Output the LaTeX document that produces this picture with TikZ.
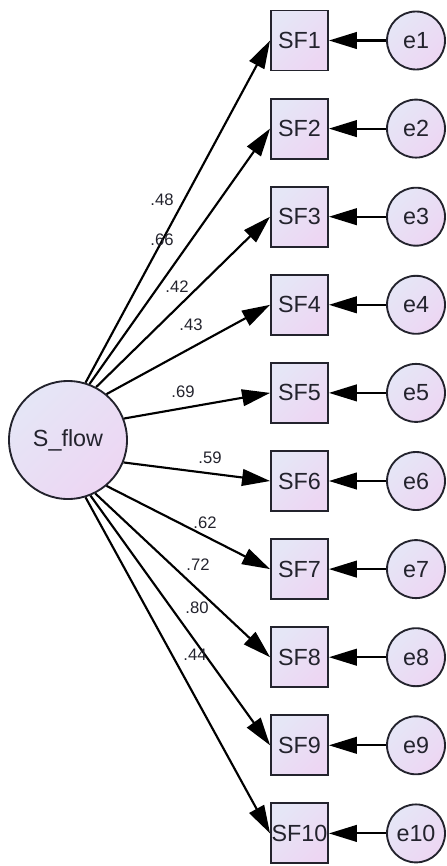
\documentclass[tikz,border=0pt]{standalone}
\usepackage{fontspec}
\setmainfont{Liberation Sans}
\usepackage{tikz}
\usetikzlibrary{arrows.meta}
\definecolor{LavTop}{RGB}{229,230,246}
\definecolor{LavBot}{RGB}{237,214,243}
\definecolor{Ink}{RGB}{35,35,45}

\begin{document}
\begin{tikzpicture}[x=0.75pt, y=-0.75pt]
	\useasboundingbox (0,0) rectangle (446,866);
	\begin{scope}[every node/.style = {circle, draw=Ink, line width=1.4pt,
		inner sep=0pt, top color=LavTop, bottom color=LavBot, shading angle=45,
		text=Ink, font = \fontsize{17.5}{20}\selectfont}]
		\node[minimum size=88.5pt] (S) at (68,440) {S\_flow};
		\node[minimum size=43.5pt] (E1) at (416,40.5) {e1};
		\node[minimum size=43.5pt] (E2) at (416,128.6) {e2};
		\node[minimum size=43.5pt] (E3) at (416,216.7) {e3};
		\node[minimum size=43.5pt] (E4) at (416,304.8) {e4};
		\node[minimum size=43.5pt] (E5) at (416,392.9) {e5};
		\node[minimum size=43.5pt] (E6) at (416,481.0) {e6};
		\node[minimum size=43.5pt] (E7) at (416,569.1) {e7};
		\node[minimum size=43.5pt] (E8) at (416,657.2) {e8};
		\node[minimum size=43.5pt] (E9) at (416,745.3) {e9};
		\node[minimum size=43.5pt] (E10) at (416,833.4) {e10};
	\end{scope}
	\begin{scope}[every node/.style = {rectangle, draw=Ink, line width=1.4pt,
		inner sep=0pt, minimum width=42.75pt, minimum height=45pt,
		top color=LavTop, bottom color=LavBot, shading angle=45,
		text=Ink, font = \fontsize{17.5}{20}\selectfont}]
		\node (SF1) at (299.5,40.5) {SF1};
		\node (SF2) at (299.5,128.6) {SF2};
		\node (SF3) at (299.5,216.7) {SF3};
		\node (SF4) at (299.5,304.8) {SF4};
		\node (SF5) at (299.5,392.9) {SF5};
		\node (SF6) at (299.5,481.0) {SF6};
		\node (SF7) at (299.5,569.1) {SF7};
		\node (SF8) at (299.5,657.2) {SF8};
		\node (SF9) at (299.5,745.3) {SF9};
		\node (SF10) at (299.5,833.4) {SF10};
	\end{scope}
	\begin{scope}[>={Triangle[length=21pt, width=12.5pt]},
			every edge/.style={draw=black, line width=1.6pt}]
		\path [<-] (SF1.west) edge (S.73);
		\path [<-] (SF2.west) edge (S.69);
		\path [<-] (SF3.west) edge (S.62);
		\path [<-] (SF4.west) edge (S.50);
		\path [<-] (SF5.west) edge (S.21);
		\path [<-] (SF6.west) edge (S.-22);
		\path [<-] (SF7.west) edge (S.-50);
		\path [<-] (SF8.west) edge (S.-63);
		\path [<-] (SF9.west) edge (S.-68);
		\path [<-] (SF10.west) edge (S.-73);
		\path [<-] (SF1) edge (E1);
		\path [<-] (SF2) edge (E2);
		\path [<-] (SF3) edge (E3);
		\path [<-] (SF4) edge (E4);
		\path [<-] (SF5) edge (E5);
		\path [<-] (SF6) edge (E6);
		\path [<-] (SF7) edge (E7);
		\path [<-] (SF8) edge (E8);
		\path [<-] (SF9) edge (E9);
		\path [<-] (SF10) edge (E10);
	\end{scope}
	\begin{scope}[every node/.style = {inner sep=0pt, text=Ink,
		font = \fontsize{12.5}{14}\selectfont}]
		\node (W1) at (162,200) {.48};
		\node (W2) at (162,240) {.66};
		\node (W3) at (177,287) {.42};
		\node (W4) at (191,325) {.43};
		\node (W5) at (183,392) {.69};
		\node (W6) at (210,458) {.59};
		\node (W7) at (205,523) {.62};
		\node (W8) at (198,565) {.72};
		\node (W9) at (197,608) {.80};
		\node (W10) at (195,655) {.44};
	\end{scope}
\end{tikzpicture}
\end{document}
